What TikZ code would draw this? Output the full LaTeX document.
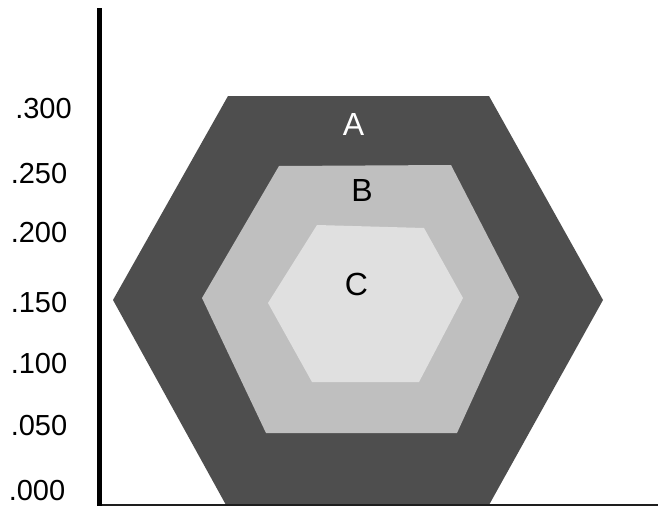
\documentclass[tikz,border=0pt]{standalone}
\usepackage{fontspec}
\setmainfont{Liberation Sans}
\definecolor{ringA}{RGB}{78,78,78}
\definecolor{ringB}{RGB}{191,191,191}
\definecolor{ringC}{RGB}{224,224,224}
\definecolor{axisdark}{RGB}{30,30,30}
\begin{document}
\begin{tikzpicture}[x=1pt,y=-1pt,
  zone/.style={font=\fontsize{32}{32}\selectfont, inner sep=0pt, text height=22.9pt, text depth=0pt},
  tick/.style={font=\fontsize{29}{29}\selectfont, inner sep=0pt, text height=20.8pt, text depth=0pt}]
\useasboundingbox (0,0) rectangle (658,506);

% nested hexagonal zones
\fill[ringA] (228,96) -- (489,96) -- (603,300) -- (489,505) -- (226,505) -- (113,300) -- cycle;
\fill[ringB] (279,166) -- (451,165) -- (519,297) -- (457,433) -- (266,433) -- (202,298) -- cycle;
\fill[ringC] (317,225) -- (424,228) -- (463,298) -- (419,382) -- (312,382) -- (268,303) -- cycle;

% zone labels
\node[zone, text=white] (lA) at (353.5,124.5) {A};
\node[zone] (lB) at (362,190) {B};
\node[zone] (lC) at (356.5,284.5) {C};

% axes
\coordinate (ytop) at (99.2,8);
\coordinate (origin) at (99.2,506);
\coordinate (xorigin) at (97,505.2);
\coordinate (xend) at (658,505.2);
\draw[line width=1.6pt, axisdark] (xorigin) -- (xend);
\draw[line width=4.6pt] (ytop) -- (origin);

% scale values
\node[tick] (t300) at (43.5,108) {.300};
\node[tick] (t250) at (39,173) {.250};
\node[tick] (t200) at (39,232) {.200};
\node[tick] (t150) at (39,302) {.150};
\node[tick] (t100) at (39,363) {.100};
\node[tick] (t050) at (39,425) {.050};
\node[tick] (t000) at (37,490) {.000};
\end{tikzpicture}
\end{document}
